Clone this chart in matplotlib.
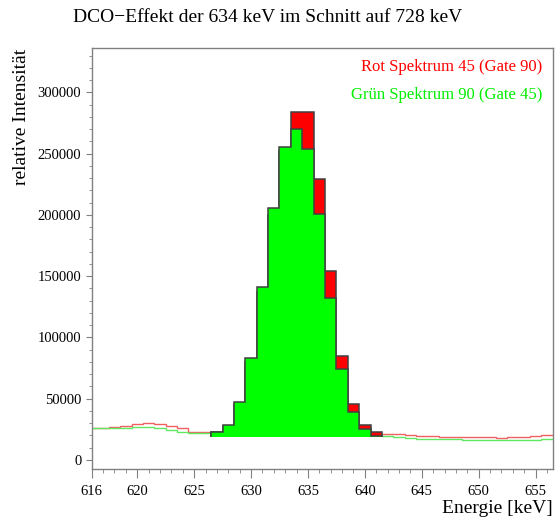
import numpy as np
import matplotlib
matplotlib.use('Agg')
import matplotlib.pyplot as plt
from matplotlib.ticker import MultipleLocator, FixedLocator

# bin centres in keV (1 keV bins)
left_energy = np.arange(616, 627)
peak_energy = np.arange(627, 642)
right_energy = np.arange(642, 657)

# untergrund links (thin lines)
red_left = [25900, 25900, 27200, 27700, 29100, 29900, 29100, 27700, 25900, 23100, 23100]
green_left = [25900, 25900, 25900, 26300, 27000, 27000, 26000, 24500, 23100, 22300, 21800]

# peak (filled)
red_peak = [22500, 27500, 45500, 80000, 137000, 200000, 252000, 284200, 284200,
            229300, 154500, 84600, 45400, 28300, 23100]
green_peak = [23100, 28600, 47300, 83000, 140900, 205400, 255100, 270000, 253500,
              200400, 132400, 74500, 38900, 25000, 19600]
fill_base = 18500

# untergrund rechts
red_right = [21200, 21200, 20700, 19850, 19850, 19000, 18800, 18800, 18800, 18800,
             18200, 18800, 18800, 19300, 20100]
green_right = [19600, 19000, 17900, 17100, 17100, 16900, 16900, 16100, 16100, 16100,
               16100, 16100, 16600, 16600, 17100]

plt.rcParams['font.family'] = ['Liberation Serif', 'DejaVu Serif']


def edges(centers):
    return np.append(centers - 0.5, centers[-1] + 0.5)


fig = plt.figure(figsize=(5.59, 5.19), dpi=100)
ax = fig.add_axes([0.164, 0.0958, 0.8247, 0.8112])

# thin background lines
ax.stairs(red_left, edges(left_energy), baseline=None, color='#f06060', lw=1.0)
ax.stairs(red_right, edges(right_energy), baseline=None, color='#f06060', lw=1.0)
ax.stairs(green_left, edges(left_energy), baseline=None, color='#60e860', lw=1.0)
ax.stairs(green_right, edges(right_energy), baseline=None, color='#60e860', lw=1.0)

# filled peak histograms
ax.stairs(red_peak, edges(peak_energy), baseline=fill_base, fill=True,
          facecolor='#ff0000', edgecolor='#404040', lw=1.1)
ax.stairs(green_peak, edges(peak_energy), baseline=fill_base, fill=True,
          facecolor='#00ff00', edgecolor='#404040', lw=1.1)

ax.set_xlim(616, 656.5)
ax.set_ylim(-7600, 336000)

ax.xaxis.set_major_locator(FixedLocator([616, 620, 625, 630, 635, 640, 645, 650, 655]))
ax.xaxis.set_minor_locator(MultipleLocator(1))
ax.yaxis.set_major_locator(MultipleLocator(50000))
ax.yaxis.set_minor_locator(MultipleLocator(10000))

for s in ax.spines.values():
    s.set_color('#808080')
    s.set_linewidth(1.0)
ax.tick_params(which='both', color='#808080', labelsize=10.5, top=False, right=False)
ax.tick_params(axis='x', which='major', length=6.5, pad=5)
ax.tick_params(axis='x', which='minor', length=3)
ax.tick_params(axis='y', which='major', length=4.5, pad=3)
ax.tick_params(axis='y', which='minor', length=2.2)

fig.text(0.13, 0.967, 'DCO\u2212Effekt der 634 keV im Schnitt auf 728 keV',
         fontsize=14, ha='left', va='center')
fig.text(0.038, 0.907, 'relative Intensit\u00e4t', rotation=90,
         fontsize=14, ha='center', va='top')
fig.text(0.9887, 0.004, 'Energie [keV]', fontsize=14, ha='right', va='bottom')

ax.text(0.978, 0.955, 'Rot Spektrum 45 (Gate 90)', transform=ax.transAxes,
        color='#ff0000', fontsize=12, ha='right', va='center')
ax.text(0.978, 0.89, 'Gr\u00fcn Spektrum 90 (Gate 45)', transform=ax.transAxes,
        color='#00ee00', fontsize=12, ha='right', va='center')

fig.savefig('out.png', dpi=100)
